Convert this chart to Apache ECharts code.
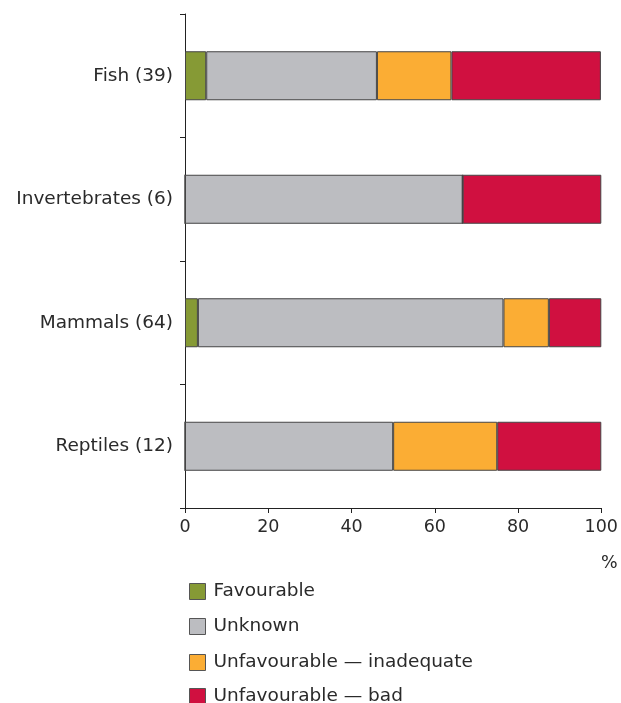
<!DOCTYPE html>
<html><head><meta charset="utf-8">
<script src="https://cdn.jsdelivr.net/npm/echarts@6/dist/echarts.min.js"></script>
<style>html,body{margin:0;padding:0;background:#fff}#c{width:621px;height:703px}</style>
</head><body><div id="c"></div>
<script>
const categories = ['Fish (39)', 'Invertebrates (6)', 'Mammals (64)', 'Reptiles (12)'];
const favourable = [5.1, 0, 3.1, 0];
const unknown = [41.0, 66.7, 73.4, 50.0];
const inadequate = [17.9, 0, 10.9, 25.0];
const bad = [35.9, 33.3, 12.6, 25.0];
const xTicks = [0, 20, 40, 60, 80, 100];
const seriesNames = ['Favourable', 'Unknown', 'Unfavourable \u2014 inadequate', 'Unfavourable \u2014 bad'];
const colors = ['#869a35', '#bcbdc1', '#fbad34', '#d01040'];
const dataSets = [favourable, unknown, inadequate, bad];
const legendTops = [577, 612, 648, 682];

const font = 'DejaVu Sans';
const chart = echarts.init(document.getElementById('c'));
chart.setOption({
  animation: false,
  grid: { left: 185, right: 18, top: 14, bottom: 195, containLabel: false },
  legend: seriesNames.map((n, i) => ({
    orient: 'vertical', left: 184, top: legendTops[i],
    itemWidth: 16, itemHeight: 16, itemGap: 0,
    icon: 'rect',
    itemStyle: { borderColor: '#555', borderWidth: 1 },
    textStyle: { fontFamily: font, fontSize: 18.5, color: '#2a2a2a', padding: [0, 0, 0, 3] },
    data: [n],
  })),
  xAxis: {
    type: 'value', min: 0, max: 100, interval: 20,
    axisLine: { show: true, lineStyle: { color: '#222', width: 1 } },
    axisTick: { show: true, length: 5, lineStyle: { color: '#222' } },
    splitLine: { show: false },
    axisLabel: { fontFamily: font, fontSize: 17.5, color: '#2a2a2a', margin: 10,
      formatter: v => xTicks.includes(v) ? String(v) : '' },
  },
  yAxis: {
    type: 'category', inverse: true, data: categories,
    axisLine: { show: true, lineStyle: { color: '#222', width: 1 } },
    axisTick: { show: true, length: 5, inside: false, alignWithLabel: false, lineStyle: { color: '#222' } },
    axisLabel: { fontFamily: font, fontSize: 18.5, color: '#2a2a2a', margin: 12 },
  },
  graphic: [{
    type: 'text', left: 601, top: 554,
    style: { text: '%', fontFamily: font, fontSize: 17.5, fill: '#2a2a2a' }
  }],
  series: dataSets.map((d, i) => ({
    name: seriesNames[i], type: 'bar', stack: 'all', barWidth: 49,
    data: d,
    itemStyle: { color: colors[i], borderColor: '#444', borderWidth: 1 },
  })),
});
</script></body></html>
